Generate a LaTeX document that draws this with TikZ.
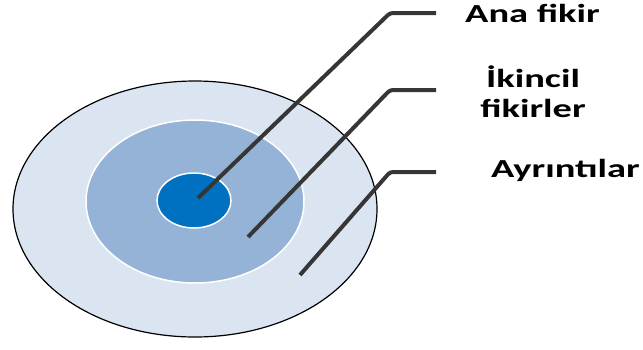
\documentclass[tikz,border=0pt]{standalone}
\usepackage{fontspec}
\newfontfamily\lblfont{Carlito}[FakeStretch=1.48]
\usetikzlibrary{shapes.geometric, positioning}

\definecolor{ringout}{HTML}{DBE5F1}
\definecolor{ringmid}{HTML}{95B3D7}
\definecolor{ringin}{HTML}{0070C0}
\definecolor{leader}{HTML}{363636}

\tikzset{
  lbl/.style={font=\lblfont\bfseries\fontsize{26}{30}\selectfont, inner sep=0pt, align=center},
  leadline/.style={draw=leader, line width=4pt, rounded corners=3pt}
}

\begin{document}
\begin{tikzpicture}[x=1pt, y=-1pt]
    \useasboundingbox (0,0) rectangle (643,349);

    % halkalar
    \node [draw=black, line width=1.2pt, fill=ringout, ellipse, minimum width=364pt, minimum height=256pt, inner sep=0pt] (dis) at (195,209) {};
    \node [draw=white, line width=1.5pt, fill=ringmid, ellipse, minimum width=218pt, minimum height=163pt, inner sep=0pt] (orta) at (195,201.5) {};
    \node [draw=white, line width=1.5pt, fill=ringin, ellipse, minimum width=74pt, minimum height=55pt, inner sep=0pt] (ic) at (194,200.5) {};

    % etiketler
    \node [lbl, anchor=base west] (anafikir) at (465,22) {Ana fikir};
    \node [lbl, anchor=base] (ikincil) at (533,117) {İkincil\\fikirler};
    \node [lbl, anchor=base west] (ayrinti) at (491,177) {Ayrıntılar};

    % cizgiler
    \coordinate (u1) at (198,198);
    \coordinate (k1) at (390,13);
    \coordinate (s1) at (436,13);
    \coordinate (u2) at (248,237);
    \coordinate (k2) at (390,90);
    \coordinate (s2) at (436,90);
    \coordinate (u3) at (300,275);
    \coordinate (k3) at (390,172);
    \coordinate (s3) at (436,172);

    \draw [leadline] (u1) -- (k1) -- (s1);
    \draw [leadline] (u2) -- (k2) -- (s2);
    \draw [leadline] (u3) -- (k3) -- (s3);
\end{tikzpicture}
\end{document}
